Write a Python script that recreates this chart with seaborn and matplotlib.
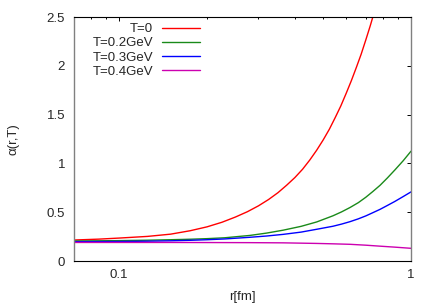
import matplotlib
matplotlib.use("Agg")
import matplotlib.pyplot as plt
import pandas as pd
import seaborn as sns

# values: r[fm] -> alpha(r,T)
r_t0 = [0.07, 0.085, 0.10, 0.125, 0.15, 0.175, 0.20, 0.225, 0.25, 0.275,
        0.30, 0.325, 0.35, 0.375, 0.40, 0.425, 0.45, 0.475, 0.50, 0.525,
        0.55, 0.575, 0.60, 0.625, 0.65, 0.675, 0.70, 0.725, 0.75, 0.775, 0.80]
a_t0 = [0.215, 0.224, 0.235, 0.252, 0.275, 0.31, 0.35, 0.397, 0.45, 0.505,
        0.565, 0.63, 0.70, 0.777, 0.855, 0.94, 1.035, 1.135, 1.24, 1.35,
        1.47, 1.59, 1.72, 1.85, 1.985, 2.12, 2.265, 2.41, 2.56, 2.71, 2.87]

r_t02 = [0.07, 0.085, 0.10, 0.125, 0.15, 0.175, 0.20, 0.23, 0.2805, 0.32,
         0.365, 0.42, 0.475, 0.54, 0.578, 0.618, 0.66, 0.70, 0.74, 0.783,
         0.83, 0.88, 0.94, 1.0]
a_t02 = [0.205, 0.207, 0.209, 0.213, 0.218, 0.223, 0.229, 0.238, 0.262, 0.286,
         0.316, 0.355, 0.40, 0.463, 0.503, 0.548, 0.598, 0.653, 0.712, 0.775,
         0.851, 0.932, 1.027, 1.125]

r_t03 = [0.07, 0.085, 0.10, 0.125, 0.15, 0.175, 0.20, 0.23, 0.2805, 0.32,
         0.365, 0.42, 0.475, 0.54, 0.578, 0.618, 0.66, 0.70, 0.74, 0.783,
         0.83, 0.88, 0.94, 1.0]
a_t03 = [0.198, 0.199, 0.20, 0.203, 0.207, 0.212, 0.218, 0.226, 0.243, 0.256,
         0.273, 0.296, 0.325, 0.356, 0.378, 0.403, 0.432, 0.462, 0.495, 0.529,
         0.569, 0.61, 0.66, 0.708]

r_t04 = [0.07, 0.15, 0.2805, 0.365, 0.475, 0.54, 0.618, 0.70, 0.783, 0.88, 1.0]
a_t04 = [0.19, 0.19, 0.188, 0.186, 0.18, 0.176, 0.171, 0.162, 0.152, 0.142, 0.13]

labels = ["T=0", "T=0.2GeV", "T=0.3GeV", "T=0.4GeV"]
colors = ["#ff0000", "#1a8a1a", "#0000ff", "#cc00b0"]

y_ticks = [0, 0.5, 1, 1.5, 2, 2.5]
y_tick_labels = ["0", "0.5", "1", "1.5", "2", "2.5"]
x_ticks = [0.1, 1]
x_tick_labels = ["0.1", "1"]
x_minor = [0.08, 0.09, 0.2, 0.3, 0.4, 0.5, 0.6, 0.7, 0.8, 0.9]

sns.set_style("white")
plt.rcParams["font.family"] = ["Liberation Sans", "DejaVu Sans"]
plt.rcParams["font.size"] = 9.5

fig = plt.figure(figsize=(4.36, 3.05), dpi=100)
ax = fig.add_axes([74 / 436, 1 - 261 / 305, 337 / 436, 244 / 305])

curves = [(r_t0, a_t0), (r_t02, a_t02), (r_t03, a_t03), (r_t04, a_t04)]
for (rr, aa), lab, col in zip(curves, labels, colors):
    df = pd.DataFrame({"r": rr, "alpha": aa})
    sns.lineplot(data=df, x="r", y="alpha", ax=ax, color=col, label=lab,
                 linewidth=1.0, estimator=None, sort=False)

ax.set_xscale("log")
ax.set_xlim(0.07, 1.0)
ax.set_ylim(0, 2.5)
ax.set_xticks(x_ticks, x_tick_labels)
ax.set_xticks(x_minor, minor=True)
ax.set_xticklabels([], minor=True)
ax.set_yticks(y_ticks, y_tick_labels)

ax.tick_params(which="both", direction="in", top=True, right=True,
               color="black", width=0.7, labelsize=9.5)
ax.tick_params(which="major", length=2.6)
ax.tick_params(which="minor", length=1.6)
ax.tick_params(axis="y", pad=6.5)
ax.tick_params(axis="x", pad=6)

for side in ["top", "bottom"]:
    ax.spines[side].set_color("black")
    ax.spines[side].set_linewidth(0.8)
for side in ["left", "right"]:
    ax.spines[side].set_color("#808080")
    ax.spines[side].set_linewidth(1.0)

ax.set_xlabel("r[fm]", fontsize=9.5)
ax.set_ylabel("α(r,T)", fontsize=9.5)
ax.xaxis.set_label_coords(0.5, -0.123)
ax.yaxis.set_label_coords(-0.163, 0.5)

leg = ax.legend(loc="upper right", bbox_to_anchor=(200 / 436, 1 - 23 / 305),
                bbox_transform=fig.transFigure, frameon=False, markerfirst=False,
                borderpad=0, borderaxespad=0, handlelength=2.9,
                handletextpad=0.65, labelspacing=0.15, fontsize=9.5)

fig.savefig("out.png", dpi=100)
